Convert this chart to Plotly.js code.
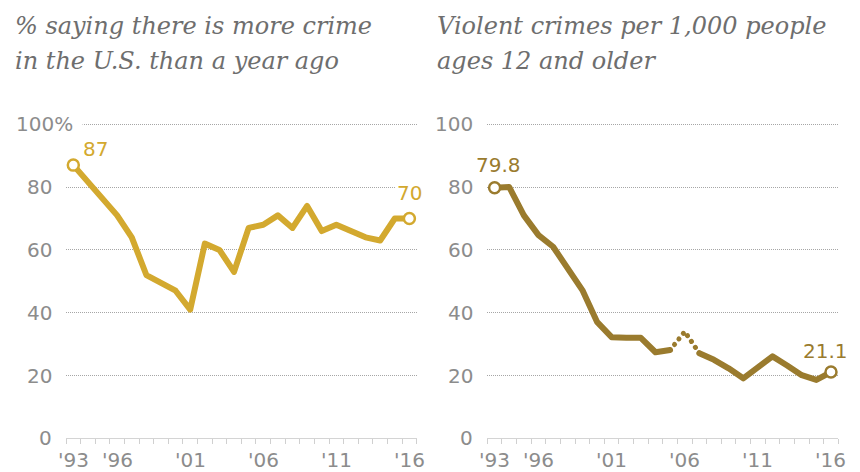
<!DOCTYPE html>
<html><head><meta charset="utf-8">
<script src="https://cdn.plot.ly/plotly-3.0.1.min.js"></script>
<style>
html,body{margin:0;padding:0;background:#fff;}
#chart{width:860px;height:472px;}
path.js-line{stroke-linecap:round;stroke-linejoin:round;}
</style></head><body><div id="chart"></div>
<script>
// ---- data ----
const perceptionYears  = [1993,1996,1997,1998,2000,2001,2002,2003,2004,2005,2006,2007,2008,2009,2010,2011,2013,2014,2015,2016];
const perceptionValues = [87,  71,  64,  52,  47,  41,  62,  60,  53,  67,  68,  71,  67,  74,  66,  68,  64,  63,  70,  70];

const crimeYearsA  = [1993,1994,1995,1996,1997,1998,1999,2000,2001,2002,2003,2004,2005];
const crimeValuesA = [79.8,80.0,71.0,64.7,61.0,54.0,47.2,37.1,32.2,32.0,32.0,27.4,28.1];
const crimeYearsBreak  = [2005,2006,2007];
const crimeValuesBreak = [28.1,34.0,27.1];
const crimeYearsB  = [2007,2008,2009,2010,2011,2012,2013,2014,2015,2016];
const crimeValuesB = [27.1,25.0,22.3,19.1,22.6,26.1,23.2,20.1,18.6,21.1];

const yTickValues   = [0,20,40,60,80,100];
const leftYTickText = ['0','20','40','60','80','100%'];
const rightYTickText= ['0','20','40','60','80','100'];
const xTickValues = [1993,1996,2001,2006,2011,2016];
const xTickText   = ["'93","'96","'01","'06","'11","'16"];

const leftTitle  = ['% saying there is more crime','in the U.S. than a year ago'];
const rightTitle = ['Violent crimes per 1,000 people','ages 12 and older'];

// ---- styling ----
const W = 860, H = 472;
const px = x => x / W;
const py = y => 1 - y / H;
const gold = '#d3a92f';
const brown = '#9a7b2e';
const tickGray = '#8c8c8c';
const titleGray = '#6e6e6e';
const sans = 'DejaVu Sans, sans-serif';
const serif = 'DejaVu Serif, serif';
const y0px = 438.3, unitPx = 3.14, yMax = 102;

const halfYears = [];
for (let y = 1992.5; y <= 2016.6; y += 1) halfYears.push(y);

function xAxis(domain) {
  return {
    domain: domain, range: [1992.5, 2016.5], fixedrange: true,
    tickvals: halfYears, ticks: 'outside', ticklen: 5, tickwidth: 1, tickcolor: '#d0d0d0',
    showticklabels: false, showline: true, linecolor: '#d4d4d4', linewidth: 1,
    showgrid: false, zeroline: false
  };
}
function yAxis(anchor) {
  return {
    domain: [py(y0px), py(y0px - yMax * unitPx)], range: [0, yMax], anchor: anchor, fixedrange: true,
    tickvals: yTickValues.filter(v => v > 0), showticklabels: false, ticks: '',
    showgrid: true, gridcolor: '#a6a6a6', gridwidth: 1, griddash: '1px,1px',
    zeroline: false, showline: false
  };
}

const traces = [
  {x: perceptionYears, y: perceptionValues, xaxis: 'x', yaxis: 'y', mode: 'lines',
   line: {color: gold, width: 6}, hoverinfo: 'skip'},
  {x: [perceptionYears[0], perceptionYears[perceptionYears.length-1]],
   y: [perceptionValues[0], perceptionValues[perceptionValues.length-1]],
   xaxis: 'x', yaxis: 'y', mode: 'markers',
   marker: {size: 11, color: '#fff', line: {color: gold, width: 2.5}}, hoverinfo: 'skip'},
  {x: crimeYearsA, y: crimeValuesA, xaxis: 'x2', yaxis: 'y2', mode: 'lines',
   line: {color: brown, width: 6}, hoverinfo: 'skip'},
  {x: crimeYearsBreak, y: crimeValuesBreak, xaxis: 'x2', yaxis: 'y2', mode: 'lines',
   line: {color: brown, width: 5, dash: '0.1px,7px'}, hoverinfo: 'skip'},
  {x: crimeYearsB, y: crimeValuesB, xaxis: 'x2', yaxis: 'y2', mode: 'lines',
   line: {color: brown, width: 6}, hoverinfo: 'skip'},
  {x: [crimeYearsA[0], crimeYearsB[crimeYearsB.length-1]],
   y: [crimeValuesA[0], crimeValuesB[crimeValuesB.length-1]],
   xaxis: 'x2', yaxis: 'y2', mode: 'markers',
   marker: {size: 11, color: '#fff', line: {color: brown, width: 2.5}}, hoverinfo: 'skip'}
];

const ann = [];
const tickFont = {family: sans, size: 20, color: tickGray};
// y tick labels
yTickValues.forEach((v, i) => {
  if (leftYTickText[i].indexOf('%') >= 0) {
    ann.push({xref: 'paper', yref: 'y', x: px(13), y: v, text: leftYTickText[i], showarrow: false,
      xanchor: 'left', yanchor: 'middle', font: tickFont, bgcolor: '#fff', borderpad: 2,
      width: 64, align: 'left'});
  } else {
    ann.push({xref: 'paper', yref: 'y', x: px(53.5), y: v, text: leftYTickText[i], showarrow: false,
      xanchor: 'right', yanchor: 'middle', font: tickFont});
  }
  ann.push({xref: 'paper', yref: 'y2', x: px(475), y: v, text: rightYTickText[i], showarrow: false,
    xanchor: 'right', yanchor: 'middle', font: tickFont});
});
// x tick labels
xTickValues.forEach((v, i) => {
  ann.push({xref: 'x', yref: 'paper', x: v, y: py(460), text: xTickText[i], showarrow: false,
    xanchor: 'center', yanchor: 'middle', font: tickFont});
  ann.push({xref: 'x2', yref: 'paper', x: v, y: py(460), text: xTickText[i], showarrow: false,
    xanchor: 'center', yanchor: 'middle', font: tickFont});
});
// value labels
const nP = perceptionValues.length - 1;
ann.push({xref: 'x', yref: 'y', x: perceptionYears[0], y: perceptionValues[0], text: String(perceptionValues[0]),
  showarrow: false, xanchor: 'left', yanchor: 'middle', xshift: 8, yshift: 16,
  font: {family: sans, size: 20, color: gold}});
ann.push({xref: 'x', yref: 'y', x: perceptionYears[nP], y: perceptionValues[nP], text: String(perceptionValues[nP]),
  showarrow: false, xanchor: 'center', yanchor: 'middle', xshift: 0, yshift: 26,
  font: {family: sans, size: 20, color: gold}, bgcolor: '#fff', borderpad: 1});
const nB = crimeValuesB.length - 1;
ann.push({xref: 'x2', yref: 'y2', x: crimeYearsA[0], y: crimeValuesA[0], text: crimeValuesA[0].toFixed(1),
  showarrow: false, xanchor: 'center', yanchor: 'middle', xshift: 4, yshift: 23,
  font: {family: sans, size: 20, color: brown}});
ann.push({xref: 'x2', yref: 'y2', x: crimeYearsB[nB], y: crimeValuesB[nB], text: crimeValuesB[nB].toFixed(1),
  showarrow: false, xanchor: 'center', yanchor: 'middle', xshift: -5, yshift: 21.5,
  font: {family: sans, size: 20, color: brown}});
// titles
const titleFont = {family: serif, size: 24, color: titleGray, style: 'italic'};
[[leftTitle, 13], [rightTitle, 435]].forEach(([lines, x0]) => {
  lines.forEach((t, i) => {
    ann.push({xref: 'paper', yref: 'paper', x: px(x0), y: py(26 + 35 * i), text: t, showarrow: false,
      xanchor: 'left', yanchor: 'middle', font: titleFont});
  });
});

const layout = {
  width: W, height: H, margin: {l: 0, r: 0, t: 0, b: 0},
  paper_bgcolor: '#fff', plot_bgcolor: '#fff', showlegend: false,
  xaxis: xAxis([px(66), px(416.7)]),
  yaxis: yAxis('x'),
  xaxis2: xAxis([px(487.3), px(838.3)]),
  yaxis2: yAxis('x2'),
  annotations: ann
};
layout.xaxis2.anchor = 'y2';
layout.xaxis.anchor = 'y';

Plotly.newPlot('chart', traces, layout, {displayModeBar: false, staticPlot: true});
</script></body></html>
